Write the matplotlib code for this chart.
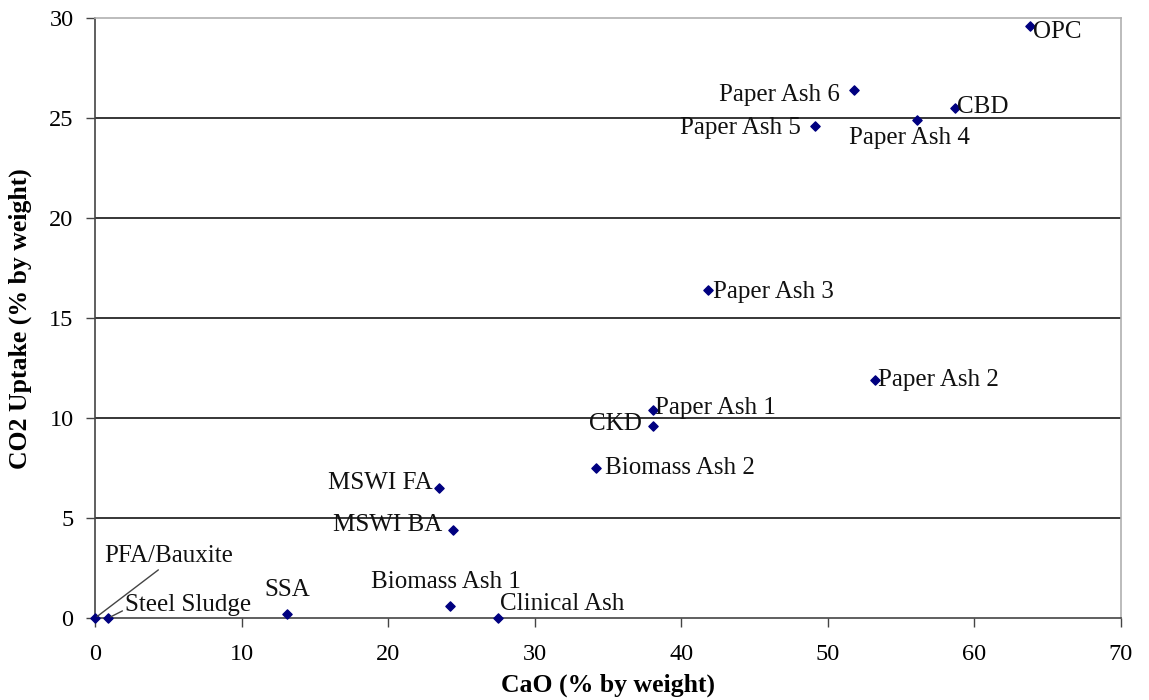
import matplotlib
matplotlib.use('Agg')
import matplotlib.pyplot as plt

# materials: CaO content vs CO2 uptake (% by weight)
names = ["PFA/Bauxite", "Steel Sludge", "SSA", "Biomass Ash 1", "Clinical Ash",
         "MSWI FA", "MSWI BA", "Biomass Ash 2", "CKD", "Paper Ash 1",
         "Paper Ash 2", "Paper Ash 3", "Paper Ash 5", "Paper Ash 6",
         "Paper Ash 4", "CBD", "OPC"]
cao = [0.0, 0.9, 13.1, 24.2, 27.5, 23.5, 24.4, 34.2, 38.1, 38.1,
       53.2, 41.8, 49.1, 51.8, 56.1, 58.7, 63.8]
co2 = [0.0, 0.0, 0.2, 0.6, 0.0, 6.5, 4.4, 7.5, 9.6, 10.4,
       11.9, 16.4, 24.6, 26.4, 24.9, 25.5, 29.6]

# label placement: (dx, dy) in pixels, horizontal alignment
label_pos = {
    "PFA/Bauxite": (9, 62, "left"),
    "Steel Sludge": (17, 13, "left"),
    "SSA": (0, 24, "center"),
    "Biomass Ash 1": (-4, 24, "center"),
    "Clinical Ash": (2, 14, "left"),
    "MSWI FA": (-7, 5, "right"),
    "MSWI BA": (-10, 5, "right"),
    "Biomass Ash 2": (9, 0, "left"),
    "CKD": (-12, 2, "right"),
    "Paper Ash 1": (2, 2, "left"),
    "Paper Ash 2": (3, 0, "left"),
    "Paper Ash 3": (5, -2, "left"),
    "Paper Ash 5": (-14, -2, "right"),
    "Paper Ash 6": (-14, -5, "right"),
    "Paper Ash 4": (-8, -18, "center"),
    "CBD": (2, 1, "left"),
    "OPC": (3, -6, "left"),
}

plt.rcParams['font.family'] = ['Liberation Serif', 'DejaVu Serif']

fig = plt.figure(figsize=(11.49, 7.0), dpi=100)
ax = fig.add_axes([0.0827, 0.117, 0.8929, 0.857])

for y in [5, 10, 15, 20, 25]:
    ax.axhline(y, color='black', lw=1.1, zorder=1)

ax.scatter(cao, co2, marker='D', s=22, color='#000080', zorder=3, clip_on=False)

for n, x, y in zip(names, cao, co2):
    dx, dy, ha = label_pos[n]
    if n in ("PFA/Bauxite", "Steel Sludge"):
        ax.annotate(n, (x, y), xytext=(dx, dy), textcoords='offset pixels',
                    ha=ha, va='center', fontsize=18, color='#111111',
                    arrowprops=dict(arrowstyle='-', color='#444444', lw=1,
                                    shrinkA=0, shrinkB=2,
                                    relpos=(0.45, 0.0) if n == "PFA/Bauxite" else (0.0, 0.3)))
    else:
        ax.annotate(n, (x, y), xytext=(dx, dy), textcoords='offset pixels',
                    ha=ha, va='center', fontsize=18, color='#111111')

ax.set_xlim(0, 70)
ax.set_ylim(0, 30)
ax.set_xticks(range(0, 71, 10))
ax.set_yticks(range(0, 31, 5))
ax.tick_params(direction='out', length=6.5, width=1, labelsize=17.5, color='#444444')
ax.tick_params(axis='x', pad=12)
ax.tick_params(axis='y', pad=9)

for s in ['top', 'right']:
    ax.spines[s].set_color('#b0b0b0')
    ax.spines[s].set_linewidth(1.2)
for s in ['left', 'bottom']:
    ax.spines[s].set_color('#444444')
    ax.spines[s].set_linewidth(1.2)

ax.set_xlabel("CaO (% by weight)", fontsize=18.5, fontweight='bold', labelpad=6)
ax.set_ylabel("CO2 Uptake (% by weight)", fontsize=18.5, fontweight='bold', labelpad=12)

fig.savefig("out.png", dpi=100)
